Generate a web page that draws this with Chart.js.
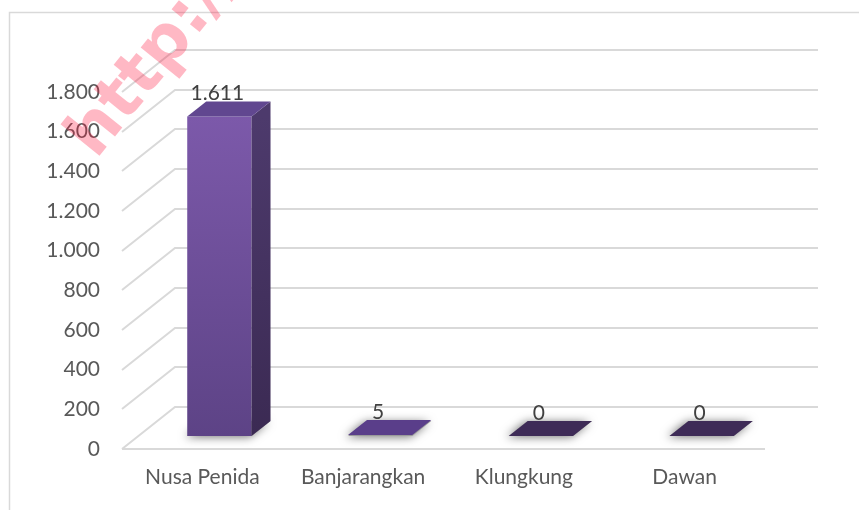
<!DOCTYPE html>
<html>
<head>
<meta charset="utf-8">
<script src="https://cdn.jsdelivr.net/npm/chart.js@4.4.1/dist/chart.umd.min.js"></script>
<style>
  html, body { margin: 0; padding: 0; background: #fff; }
  #wrap { width: 859px; height: 510px; }
</style>
</head>
<body>
<div id="wrap"><canvas id="kecamatanChart" width="859" height="510"></canvas></div>
<script>
// data
const kecamatan = ['Nusa Penida', 'Banjarangkan', 'Klungkung', 'Dawan'];
const jumlah = [1611, 5, 0, 0];
const yTicks = [0, 200, 400, 600, 800, 1000, 1200, 1400, 1600, 1800];

// 3d look: back wall offset, bar position inside the box, bar depth
const WALL = { dx: 53, dy: -42 };
const BAR_OFF = { dx: 17, dy: -13 };
const BAR_DEPTH = { dx: 19, dy: -15 };

const fmt = v => String(v).replace(/\B(?=(\d{3})+(?!\d))/g, '.');

const fondo3d = {
    id: 'fondo3d',
    beforeDraw(chart) {
        const ctx = chart.ctx;
        ctx.save();
        ctx.strokeStyle = '#d9d9d9';
        ctx.lineWidth = 1.5;
        ctx.beginPath();
        ctx.moveTo(9.5, 520);
        ctx.lineTo(9.5, 12.5);
        ctx.lineTo(870, 12.5);
        ctx.stroke();
        ctx.restore();
    },
    beforeDatasetsDraw(chart) {
        const ctx = chart.ctx;
        const y = chart.scales.y;
        const a = chart.chartArea;
        ctx.save();
        ctx.strokeStyle = '#d9d9d9';
        ctx.lineWidth = 2;
        yTicks.forEach(v => {
            const py = Math.round(y.getPixelForValue(v));
            ctx.beginPath();
            ctx.moveTo(a.left, py);
            ctx.lineTo(a.left + WALL.dx, py + WALL.dy);
            ctx.lineTo(a.right + WALL.dx, py + WALL.dy);
            ctx.stroke();
        });
        // borde delantero del piso
        const p0 = Math.round(y.getPixelForValue(0));
        ctx.beginPath();
        ctx.moveTo(a.left, p0);
        ctx.lineTo(a.right, p0);
        ctx.stroke();
        ctx.restore();
    },
    afterDatasetsDraw(chart) {
        const ctx = chart.ctx;
        const meta = chart.getDatasetMeta(0);
        meta.data.forEach((bar, i) => {
            const w = bar.width;
            const l = bar.x - w / 2 + BAR_OFF.dx;
            const r = bar.x + w / 2 + BAR_OFF.dx;
            const t = bar.y + BAR_OFF.dy;
            const b = bar.base + BAR_OFF.dy;
            const dx = BAR_DEPTH.dx, dy = BAR_DEPTH.dy;

            // sombra en el piso
            ctx.save();
            ctx.shadowColor = 'rgba(0,0,0,0.55)';
            ctx.shadowBlur = 10;
            ctx.shadowOffsetX = -2;
            ctx.shadowOffsetY = 1;
            ctx.fillStyle = '#9a9a9a';
            ctx.beginPath();
            ctx.moveTo(l, b);
            ctx.lineTo(r, b);
            ctx.lineTo(r + dx, b + dy);
            ctx.lineTo(l + dx, b + dy);
            ctx.closePath();
            ctx.fill();
            ctx.restore();

            ctx.save();
            if (b - t > 1) {
                // cara frontal
                const gf = ctx.createLinearGradient(0, t, 0, b);
                gf.addColorStop(0, '#7c59aa');
                gf.addColorStop(1, '#5d4386');
                ctx.fillStyle = gf;
                ctx.fillRect(l, t, w, b - t);
                // cara lateral
                const gs = ctx.createLinearGradient(0, t, 0, b);
                gs.addColorStop(0, '#4d3a6c');
                gs.addColorStop(1, '#3b2a53');
                ctx.fillStyle = gs;
                ctx.beginPath();
                ctx.moveTo(r, t);
                ctx.lineTo(r + dx, t + dy);
                ctx.lineTo(r + dx, b + dy);
                ctx.lineTo(r, b);
                ctx.closePath();
                ctx.fill();
            }
            // cara superior
            ctx.fillStyle = jumlah[i] > 0 ? (b - t > 1 ? '#614790' : '#5a3e8a') : '#3e2b57';
            ctx.beginPath();
            ctx.moveTo(l, t);
            ctx.lineTo(r, t);
            ctx.lineTo(r + dx, t + dy);
            ctx.lineTo(l + dx, t + dy);
            ctx.closePath();
            ctx.fill();

            // etiqueta de valor
            ctx.fillStyle = '#404040';
            ctx.font = '21px Lato';
            ctx.textAlign = 'center';
            ctx.textBaseline = 'middle';
            ctx.fillText(fmt(jumlah[i]), (l + r) / 2 - 2, t - 23);
            ctx.restore();
        });
    },
    afterDraw(chart) {
        // marca de agua
        const ctx = chart.ctx;
        ctx.save();
        ctx.translate(96, 160);
        ctx.rotate(-51 * Math.PI / 180);
        ctx.font = 'bold 66px "DejaVu Sans"';
        ctx.fillStyle = 'rgba(255, 20, 60, 0.3)';
        ctx.textBaseline = 'alphabetic';
        ctx.fillText('http://www', 0, 0);
        ctx.restore();
    }
};

new Chart(document.getElementById('kecamatanChart').getContext('2d'), {
    type: 'bar',
    data: {
        labels: kecamatan,
        datasets: [{
            label: 'Jumlah',
            data: jumlah,
            backgroundColor: 'rgba(0,0,0,0)',
            borderWidth: 0,
            categoryPercentage: 1,
            barPercentage: 0.4
        }]
    },
    options: {
        responsive: false,
        animation: false,
        layout: { padding: { left: 0, right: 94, top: 92, bottom: 0 } },
        plugins: {
            legend: { display: false },
            tooltip: { enabled: false }
        },
        scales: {
            x: {
                grid: { display: false, drawTicks: false },
                border: { display: false },
                ticks: { color: '#595959', font: { family: 'Lato', size: 21 }, padding: 16 },
                afterFit: s => { s.height = 61; }
            },
            y: {
                min: 0,
                max: 1800,
                afterBuildTicks: s => { s.ticks = yTicks.map(v => ({ value: v })); },
                grid: { display: false, drawTicks: false },
                border: { display: false },
                ticks: {
                    color: '#595959',
                    font: { family: 'Lato', size: 21 },
                    padding: 22,
                    callback: v => fmt(v)
                },
                afterFit: s => { s.width = 122; }
            }
        }
    },
    plugins: [fondo3d]
});
</script>
</body>
</html>
